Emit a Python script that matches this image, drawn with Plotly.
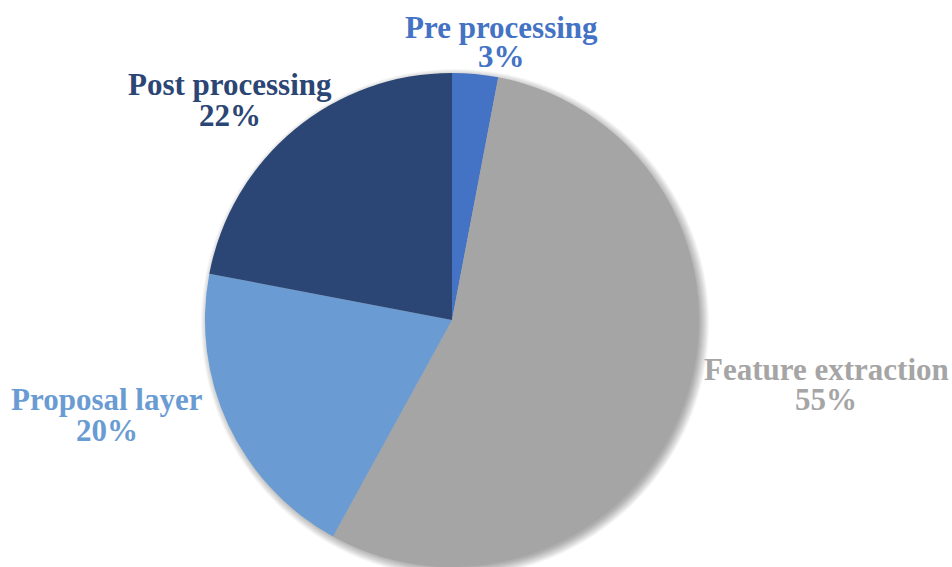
import plotly.graph_objects as go

# Share of processing time per stage
stages = ["Pre processing", "Feature extraction", "Proposal layer", "Post processing"]
shares = [3, 55, 20, 22]
colors = ["#4472C4", "#A5A5A5", "#6A9CD3", "#2B4574"]

W, H = 952, 567
label_font = "Liberation Serif, Times New Roman, serif"

# Label anchor points (pixel centres of the name line / percent line)
label_xy = {
    "Pre processing": (501, 27, 57),
    "Feature extraction": (826, 369, 399),
    "Proposal layer": (107, 399, 430),
    "Post processing": (230, 85, 115),
}

fig = go.Figure()

# Pie occupies a square domain so radius ~247px centred near (452, 320)
dom_h = 0.8714
cx_px = 452
half_w = (dom_h * H) / 2 / W
fig.add_trace(go.Pie(
    labels=stages,
    values=shares,
    marker=dict(colors=colors, line=dict(width=0)),
    sort=False,
    direction="clockwise",
    rotation=0,
    textinfo="none",
    hoverinfo="label+percent",
    showlegend=False,
    domain=dict(x=[cx_px / W - half_w, cx_px / W + half_w], y=[0, dom_h]),
))

# Soft drop shadow behind the pie
r_px = dom_h * H / 2
cy_px = H - r_px
shapes = []
for i in range(10):
    rr = r_px - 2 + i * 1.0
    ox, oy = 3, 3
    shapes.append(dict(
        type="circle", xref="paper", yref="paper", layer="below",
        x0=(cx_px + ox - rr) / W, x1=(cx_px + ox + rr) / W,
        y0=1 - (cy_px + oy + rr) / H, y1=1 - (cy_px + oy - rr) / H,
        fillcolor="rgba(0,0,0,0.035)", line=dict(width=0),
    ))

annotations = []
for name, val, col in zip(stages, shares, colors):
    x, y1, y2 = label_xy[name]
    for txt, yy in ((name, y1), (f"{val}%", y2)):
        annotations.append(dict(
            text=f"<b>{txt}</b>", x=x / W, y=1 - yy / H,
            xref="paper", yref="paper", xanchor="center", yanchor="middle",
            showarrow=False, font=dict(family=label_font, size=31, color=col),
        ))

fig.update_layout(
    width=W, height=H,
    margin=dict(l=0, r=0, t=0, b=0),
    paper_bgcolor="white", plot_bgcolor="white",
    shapes=shapes, annotations=annotations,
)

fig.write_html("out.html")
